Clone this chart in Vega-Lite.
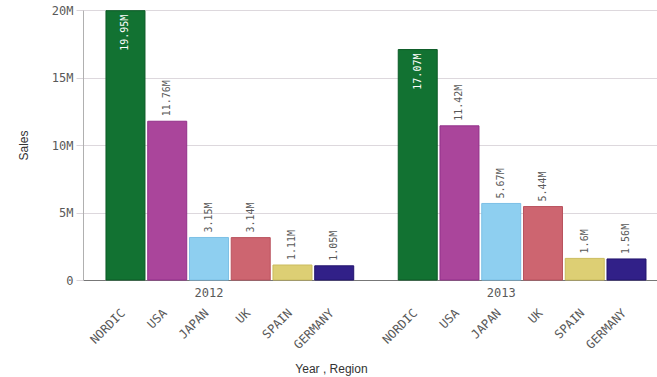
{
  "$schema": "https://vega.github.io/schema/vega-lite/v6.json",
  "autosize": {"type": "none"},
  "width": 574,
  "height": 270,
  "padding": {"left": 83, "top": 10, "right": 0, "bottom": 97},
  "background": "white",
  "config": {"view": {"stroke": null}, "font": "DejaVu Sans Mono"},
  "data": {"values": [
    {"Year": "2012", "Region": "NORDIC", "Key": "2012|NORDIC", "Sales": 19950000},
    {"Year": "2012", "Region": "USA", "Key": "2012|USA", "Sales": 11760000},
    {"Year": "2012", "Region": "JAPAN", "Key": "2012|JAPAN", "Sales": 3150000},
    {"Year": "2012", "Region": "UK", "Key": "2012|UK", "Sales": 3140000},
    {"Year": "2012", "Region": "SPAIN", "Key": "2012|SPAIN", "Sales": 1110000},
    {"Year": "2012", "Region": "GERMANY", "Key": "2012|GERMANY", "Sales": 1050000},
    {"Year": "2013", "Region": "NORDIC", "Key": "2013|NORDIC", "Sales": 17070000},
    {"Year": "2013", "Region": "USA", "Key": "2013|USA", "Sales": 11420000},
    {"Year": "2013", "Region": "JAPAN", "Key": "2013|JAPAN", "Sales": 5670000},
    {"Year": "2013", "Region": "UK", "Key": "2013|UK", "Sales": 5440000},
    {"Year": "2013", "Region": "SPAIN", "Key": "2013|SPAIN", "Sales": 1600000},
    {"Year": "2013", "Region": "GERMANY", "Key": "2013|GERMANY", "Sales": 1560000}
  ]},
  "encoding": {
    "x": {
      "field": "Key", "type": "nominal",
      "scale": {
        "type": "band",
        "domain": ["2012|NORDIC", "2012|USA", "2012|JAPAN", "2012|UK", "2012|SPAIN", "2012|GERMANY", "gap",
                   "2013|NORDIC", "2013|USA", "2013|JAPAN", "2013|UK", "2013|SPAIN", "2013|GERMANY"],
        "paddingInner": 0.066, "paddingOuter": 0.407, "align": 0.676
      }
    },
    "y": {
      "field": "Sales", "type": "quantitative",
      "scale": {"domain": [0, 20000000], "nice": false},
      "axis": {
        "values": [0, 5000000, 10000000, 15000000, 20000000],
        "labelExpr": "datum.value == 0 ? '0' : (datum.value / 1000000) + 'M'",
        "title": "Sales", "titleFont": "Liberation Sans", "titleFontSize": 12, "titleFontWeight": "normal",
        "titleColor": "#333333", "titleX": -60, "titleY": 135, "titleAngle": -90, "titleAlign": "center", "titleBaseline": "middle",
        "labelFont": "DejaVu Sans Mono", "labelFontSize": 12, "labelColor": "#595959", "labelPadding": 3,
        "tickSize": 7, "tickColor": "#d9d4d9", "gridColor": "#ddd8dd", "domainColor": "#b0b0b0"
      }
    }
  },
  "layer": [
    {
      "mark": {"type": "bar", "strokeWidth": 1},
      "encoding": {
        "x": {
          "field": "Key", "type": "nominal",
          "axis": {
            "orient": "bottom", "values": ["2012|JAPAN", "2013|JAPAN"], "bandPosition": 1.03,
            "labelExpr": "split(datum.value, '|')[0]", "labelAngle": 0, "labelAlign": "center", "labelBaseline": "top",
            "labelPadding": 7, "labelFont": "DejaVu Sans Mono", "labelFontSize": 12, "labelColor": "#595959",
            "ticks": false, "grid": false, "domain": true, "domainColor": "#777777", "title": null
          }
        },
        "color": {
          "field": "Region", "type": "nominal", "legend": null,
          "scale": {"domain": ["NORDIC", "USA", "JAPAN", "UK", "SPAIN", "GERMANY"],
                    "range": ["#127232", "#aa459b", "#8ecff0", "#cd6570", "#ddcf74", "#312088"]}
        },
        "stroke": {
          "field": "Region", "type": "nominal", "legend": null,
          "scale": {"domain": ["NORDIC", "USA", "JAPAN", "UK", "SPAIN", "GERMANY"],
                    "range": ["#0c5a26", "#93308a", "#7cc0e6", "#b9525e", "#cbbc5e", "#22146e"]}
        }
      }
    },
    {
      "transform": [{"filter": "datum.Sales < 15000000"}],
      "mark": {"type": "text", "angle": 270, "align": "left", "baseline": "middle", "dx": 5,
               "font": "DejaVu Sans Mono", "fontSize": 10, "color": "#595959"},
      "encoding": {
        "x": {
          "field": "Key", "type": "nominal",
          "axis": {
            "orient": "bottom", "values": ["2012|NORDIC", "2012|USA", "2012|JAPAN", "2012|UK", "2012|SPAIN", "2012|GERMANY",
                                           "2013|NORDIC", "2013|USA", "2013|JAPAN", "2013|UK", "2013|SPAIN", "2013|GERMANY"],
            "labelExpr": "split(datum.value, '|')[1]", "labelAngle": -45, "labelAlign": "right", "labelBaseline": "top",
            "labelPadding": 27, "labelOffset": -6, "labelFont": "DejaVu Sans Mono", "labelFontSize": 12, "labelColor": "#595959",
            "ticks": false, "grid": false, "domain": false,
            "title": "Year , Region", "titleFont": "Liberation Sans", "titleFontSize": 12, "titleFontWeight": "normal",
            "titleColor": "#333333", "titleX": 248, "titleY": 92, "titleAlign": "center", "titleBaseline": "alphabetic"
          }
        },
        "text": {"field": "Sales", "type": "quantitative", "format": ".4~s"}
      }
    },
    {
      "transform": [{"filter": "datum.Sales >= 15000000"}],
      "mark": {"type": "text", "angle": 270, "align": "right", "baseline": "middle", "dx": -4,
               "font": "DejaVu Sans Mono", "fontSize": 10, "color": "white"},
      "encoding": {
        "x": {"field": "Key", "type": "nominal", "axis": null},
        "text": {"field": "Sales", "type": "quantitative", "format": ".4~s"}
      }
    }
  ],
  "resolve": {"axis": {"x": "independent"}}
}
